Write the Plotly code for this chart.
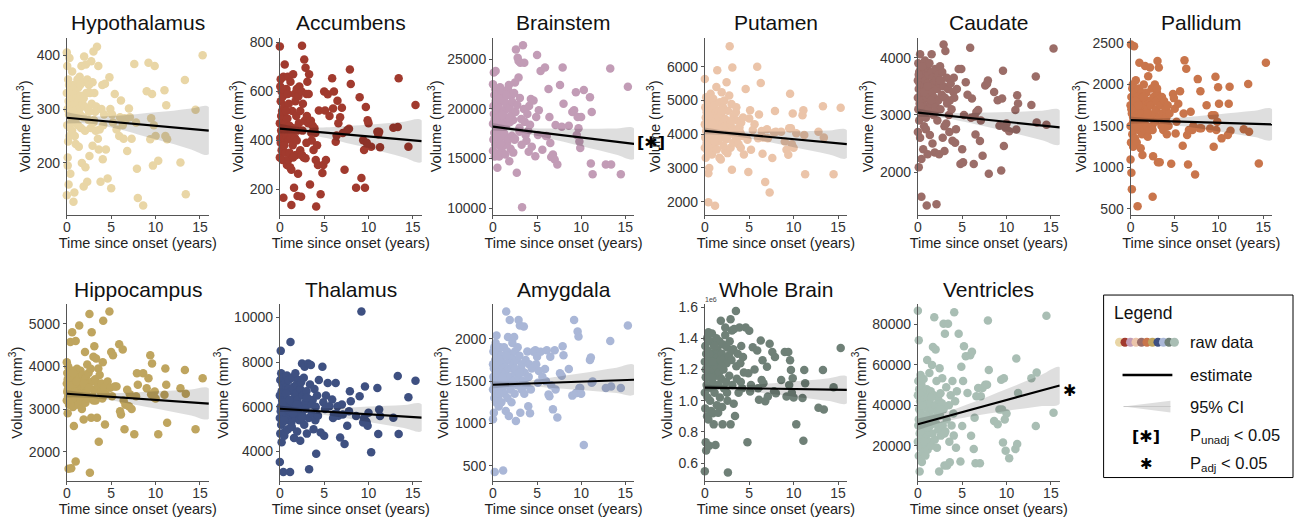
import plotly.graph_objects as go

W, H = 1298, 519

# ---------------- data ----------------
time_since_onset = [
    0.0, 0.0, 0.0, 0.05, 0.05, 0.1, 0.1, 0.15, 0.15, 0.2,
    0.2, 0.25, 0.25, 0.3, 0.3, 0.35, 0.4, 0.4, 0.45, 0.5,
    0.5, 0.55, 0.6, 0.6, 0.65, 0.7, 0.75, 0.8, 0.8, 0.85,
    0.9, 0.95, 1.0, 1.0, 1.05, 1.1, 1.15, 1.2, 1.25, 1.3,
    1.3, 1.35, 1.4, 1.45, 1.5, 1.55, 1.6, 1.65, 1.7, 1.75,
    1.8, 1.85, 1.9, 1.95, 2.0, 2.05, 2.1, 2.15, 2.2, 2.3,
    2.3, 2.4, 2.45, 2.5, 2.55, 2.6, 2.7, 2.75, 2.8, 2.9,
    2.9, 3.0, 3.05, 3.1, 3.2, 3.25, 3.3, 3.4, 3.5, 3.55,
    3.6, 3.7, 3.8, 3.9, 4.0, 4.05, 4.1, 4.2, 4.3, 4.4,
    0.1, 0.3, 0.5, 0.7, 0.9, 1.1, 1.5, 1.9, 2.5, 3.0,
    4.6, 4.8, 5.0, 5.4, 5.9, 6.1, 6.3, 6.5, 6.8, 7.0,
    7.3, 7.6, 7.9, 8.0, 8.6, 9.0, 9.2, 9.4, 9.6, 9.7,
    9.9, 10.3, 11.0, 11.1, 11.2, 11.3, 12.8, 13.3, 13.4, 14.5, 15.3,
    4.9, 5.1, 5.2, 5.6, 6.0, 6.4, 6.6, 7.1, 7.8, 9.5, 9.8, 10.0,
]

hypothalamus = [
    405, 330, 140, 380, 270, 300, 195, 355, 240, 315,
    160, 290, 345, 395, 310, 265, 180, 325, 300, 285,
    335, 310, 370, 260, 300, 320, 128, 290, 345, 145,
    310, 280, 330, 235, 300, 320, 295, 355, 270, 340,
    315, 230, 300, 360, 290, 325, 265, 380, 200, 310,
    350, 285, 156, 398, 305, 260, 192, 383, 330, 165,
    355, 300, 280, 345, 213, 330, 265, 389, 310, 350,
    232, 407, 280, 330, 295, 260, 305, 416, 245, 380,
    225, 262, 165, 300, 345, 207, 270, 290, 347, 225,
    210, 250, 275, 295, 250, 285, 345, 320, 295, 275,
    171, 359, 153, 328, 250, 316, 270, 283, 222, 301,
    245, 384, 189, 135, 121, 333, 386, 244, 328, 195,
    380, 204, 335, 250, 307, 244, 201, 354, 142, 299, 400,
    300, 290, 275, 262, 285, 245, 280, 285, 275, 283, 270, 250,
]

accumbens = [
    783, 470, 330, 620, 410, 560, 390, 500, 440, 600,
    360, 520, 430, 470, 320, 580, 660, 166, 450, 410,
    540, 710, 400, 470, 350, 430, 610, 415, 300, 490,
    660, 320, 420, 550, 405, 460, 290, 640, 410, 280,
    136, 430, 520, 380, 670, 450, 207, 590, 410, 560,
    340, 500, 610, 440, 173, 264, 580, 470, 620, 360,
    520, 170, 600, 787, 440, 550, 330, 730, 480, 697,
    327, 590, 500, 640, 470, 590, 670, 220, 480, 430,
    400, 460, 361, 450, 430, 320, 130, 380, 300, 522,
    650, 610, 380, 520, 590, 350, 330, 400, 340, 390,
    180, 267, 600, 589, 654, 600, 395, 562, 495, 533,
    280, 442, 690, 630, 207, 576, 247, 401, 207, 536,
    482, 374, 435, 425, 435, 372, 452, 455, 654, 374, 545,
    300, 522, 320, 500, 530, 420, 470, 430, 448, 361, 390, 470,
]

brainstem = [
    22500, 18500, 15800, 20300, 16900, 23680, 19500, 17600, 21400, 15200,
    19000, 22000, 16400, 23840, 18200, 20500, 17400, 15500, 21800, 14070,
    19800, 16800, 21500, 18600, 20200, 15200, 17900, 22200, 19300, 16200,
    20800, 18000, 21900, 15700, 19600, 17200, 20900, 16300, 18800, 21200,
    17500, 19900, 15400, 20600, 18300, 21700, 16600, 19100, 22000, 17000,
    22420, 14730, 20100, 18700, 16000, 21300, 19400, 17300, 20700, 15600,
    18900, 21600, 16900, 22680, 19700, 26000, 13580, 20400, 25170, 23180,
    24830, 17700, 21100, 24670, 19000, 16400, 10100, 26420, 20000, 24670,
    18700, 17380, 16800, 19500, 17800, 15700, 20300, 18400, 21000, 16200,
    17000, 20800, 18300, 21000, 16500, 19400, 21400, 19200, 17000, 18100,
    20860, 15230, 25430, 23840, 24170, 17280, 22020, 16560, 15400, 14900,
    14400, 22420, 24170, 20530, 18300, 19700, 19870, 21690, 19200, 18050,
    16060, 21920, 21190, 14500, 19700, 13410, 14400, 24070, 14400, 13410, 22250,
    19200, 17380, 19870, 15900, 17280, 19200, 15170, 18380, 18210, 17380, 16720, 19200,
]

putamen = [
    5640, 4300, 3600, 4800, 3900, 4500, 3300, 5100, 4100, 4650,
    3750, 4400, 5000, 4200, 3500, 4700, 1980, 2840, 4350, 3000,
    4900, 4050, 3700, 4550, 5200, 3850, 4450, 3400, 4750, 4150,
    3950, 5050, 4250, 3600, 4600, 4850, 1880, 3750, 4400, 5400,
    4100, 3550, 5900, 4300, 3800, 4700, 4500, 3300, 4950, 4000,
    3250, 4600, 5250, 3900, 4350, 4800, 3650, 4200, 5000, 3500,
    4450, 3850, 5540, 4250, 3440, 4700, 4050, 5150, 6615, 3600,
    4300, 4900, 2950, 5980, 3750, 4550, 4150, 3950, 4650, 4800,
    3850, 4400, 3700, 4200, 4050, 3600, 4350, 3950, 4500, 3400,
    4250, 3650, 4550, 4000, 4300, 3800, 4150, 4700, 3900, 4400,
    5346, 3834, 4468, 4127, 6000, 4585, 5522, 3424, 2585, 4146,
    2273, 3298, 4693, 4078, 4078, 3785, 3541, 3395, 5200, 4176,
    4615, 4029, 4566, 4712, 3980, 2810, 4078, 4830, 3900, 2810, 4790,
    2878, 4712, 3541, 4300, 3883, 4100, 3900, 3883, 4050, 4176, 3700, 3600,
]

caudate = [
    3300, 3600, 2700, 3900, 3100, 2086, 3450, 3750, 2900, 3200,
    3550, 4057, 2600, 3350, 3800, 2950, 1571, 2229, 3650, 3050,
    3400, 3850, 2400, 3250, 3700, 2800, 3500, 3950, 3150, 3600,
    2750, 3450, 3300, 1417, 3800, 2314, 3550, 3100, 3700, 3350,
    3900, 2650, 3500, 3200, 3750, 4057, 3400, 2500, 3650, 3000,
    3550, 3300, 2343, 3800, 3150, 3600, 1440, 3450, 2900, 3700,
    3250, 2314, 3550, 3850, 3100, 3600, 3350, 3750, 2600, 4229,
    3500, 2371, 3300, 4114, 2850, 3650, 3200, 3450, 3000, 2700,
    3250, 3550, 3100, 2550, 3400, 3650, 3300, 2514, 2750, 3450,
    3700, 3150, 3850, 3400, 2950, 3500, 3250, 3050, 3600, 2800,
    3800, 2143, 2400, 3571, 4171, 3286, 2143, 2657, 3086, 2543,
    2286, 3514, 3600, 1971, 3400, 3257, 2811, 2029, 3771, 2457,
    2771, 2714, 3086, 2743, 3343, 3200, 3171, 3669, 2869, 2829, 4160,
    3800, 2171, 3000, 3350, 2950, 2971, 3050, 2900, 3543, 3286, 2800, 2850,
]

pallidum = [
    1750, 1500, 1094, 2480, 1300, 1850, 936, 1650, 738, 1950,
    1400, 1700, 2000, 1550, 1250, 1800, 2460, 1450, 1600, 1900,
    1350, 1750, 1500, 2050, 1650, 1300, 1850, 532, 1550, 1700,
    1450, 1950, 1600, 2262, 1800, 1500, 1232, 1700, 1900, 1400,
    1650, 1150, 1850, 1550, 2000, 1750, 1450, 2223, 1600, 1800,
    1900, 1500, 1700, 1370, 2100, 1650, 1800, 1450, 2203, 1600,
    1750, 1950, 1500, 647, 1134, 1850, 1650, 2000, 1550, 1800,
    1700, 1900, 2282, 1063, 2203, 1600, 1063, 1750, 1500, 1850,
    1650, 1450, 1800, 1550, 1700, 1600, 1400, 1750, 1500, 1650,
    1700, 1600, 1800, 1500, 1750, 1550, 1850, 1650, 1450, 1950,
    1043, 1886, 1708, 1767, 1260, 2290, 2190, 1035, 1670, 1450,
    916, 2064, 1918, 1471, 1750, 1470, 1630, 1250, 2092, 1450,
    1965, 1350, 1390, 1767, 1973, 1443, 1459, 2005, 1430, 1047, 2262,
    1835, 1410, 1550, 1918, 1650, 1390, 1450, 1500, 1471, 1630, 1550, 1767,
]

hippocampus = [
    3600, 3200, 4100, 3400, 3850, 2900, 3700, 3300, 4000, 1600,
    3500, 3900, 3100, 3650, 3350, 3800, 3250, 4575, 3550, 1613,
    3700, 3150, 4807, 3450, 3900, 3050, 3600, 2602, 3750, 3300,
    3500, 3850, 1767, 4600, 3250, 3650, 3950, 3400, 3550, 3100,
    3750, 3300, 4961, 3600, 3450, 3900, 3200, 3700, 3000, 3550,
    3800, 3350, 2757, 3650, 3500, 4343, 3150, 3750, 3400, 4050,
    3600, 3250, 3850, 3500, 5232, 1504, 3950, 2795, 4807, 3300,
    3650, 4227, 3450, 4474, 3700, 3200, 4188, 2795, 3550, 3956,
    2231, 3800, 3400, 3600, 3250, 4100, 5077, 3500, 2641, 3350,
    3450, 3750, 3550, 3850, 3400, 3650, 3300, 3600, 3500, 3200,
    3647, 5294, 4343, 3530, 4520, 2873, 4397, 2525, 3453, 3066,
    3005, 2410, 3840, 3570, 3840, 3490, 3724, 4265, 4072, 3353,
    3415, 2410, 3337, 3956, 3569, 2680, 3490, 3917, 3360, 2525, 3724,
    3500, 3300, 4265, 3530, 2950, 3200, 3100, 3350, 3300, 3350, 3280, 3250,
]

thalamus = [
    6500, 5500, 3529, 7200, 4800, 8500, 6000, 5200, 7500, 6700,
    4412, 6300, 5800, 7000, 5300, 6600, 3088, 5900, 7300, 4706,
    6200, 5600, 7100, 4900, 6400, 5700, 6900, 5400, 7400, 6100,
    5000, 6800, 5500, 7200, 6300, 5800, 3088, 8897, 6000, 5300,
    6700, 5100, 7300, 6200, 5700, 6900, 4600, 6400, 5900, 7500,
    5500, 6600, 7000, 4900, 6300, 5800, 7200, 6100, 5400, 6800,
    4485, 7100, 6000, 7941, 5600, 6500, 7300, 5200, 7794, 6200,
    5900, 6700, 4800, 6400, 7941, 5500, 3206, 7000, 7868, 6100,
    5700, 6300, 5000, 6800, 5400, 6000, 3897, 6500, 5600, 7200,
    5800, 6200, 5400, 6600, 5900, 6300, 5700, 6100, 5500, 6400,
    4853, 7794, 4700, 7059, 6324, 5662, 7059, 6029, 4632, 6100,
    4338, 5147, 6691, 6250, 5588, 6471, 10265, 5300, 6912, 5368,
    5147, 3971, 6838, 4779, 5882, 5588, 5515, 7382, 4779, 6426, 7162,
    6200, 5900, 6500, 6029, 5500, 5700, 5600, 5650, 5800, 5500, 5300, 5735,
]

amygdala = [
    1700, 1400, 1050, 1850, 1550, 1128, 1650, 1300, 1900, 1450,
    430, 1750, 1350, 1600, 1950, 1250, 2039, 1500, 1800, 1400,
    1650, 1300, 1850, 1550, 1200, 1700, 1450, 1900, 1350, 1600,
    1750, 1250, 1500, 1800, 1400, 1650, 446, 1550, 1900, 1350,
    1700, 1450, 1600, 1147, 2322, 1500, 1850, 1300, 2019, 1650,
    1089, 1750, 2221, 1550, 1400, 1800, 1250, 1650, 1950, 1500,
    1700, 2019, 1350, 1850, 1600, 1031, 1750, 1450, 1900, 2221,
    1550, 1800, 2155, 1128, 1650, 1400, 1700, 1500, 2143, 1350,
    1600, 1750, 1450, 1850, 1205, 1550, 1700, 1120, 1400, 1650,
    1500, 1700, 1600, 1350, 1750, 1550, 1800, 1450, 1650, 1600,
    1845, 1864, 1787, 1845, 1643, 1864, 1341, 1787, 1167, 1864,
    1070, 1593, 1911, 1806, 1643, 1329, 2221, 1360, 2085, 2027,
    1419, 748, 1748, 1779, 1480, 1496, 1419, 1973, 1438, 1419, 2155,
    1700, 1480, 1620, 1550, 1500, 1322, 1450, 1400, 1562, 1360, 1420, 1350,
]

whole_brain = [  # in units of 1e6 mm^3
    1.25, 1.05, 0.547, 1.35, 0.95, 1.15, 0.733, 1.30, 0.68, 1.20,
    1.10, 1.40, 0.90, 1.25, 1.02, 1.32, 1.438, 0.88, 1.18, 1.28,
    0.711, 1.22, 1.38, 1.00, 1.15, 0.933, 1.27, 1.08, 1.43, 1.12,
    0.92, 1.30, 1.20, 0.848, 1.35, 1.05, 1.25, 0.716, 1.16, 1.40,
    1.22, 0.97, 1.33, 1.10, 0.922, 1.28, 1.18, 1.38, 1.02, 1.26,
    1.512, 1.14, 1.30, 0.96, 0.848, 1.36, 1.20, 1.08, 1.27, 1.42,
    1.469, 1.12, 1.24, 1.34, 1.00, 0.539, 1.29, 1.16, 1.38, 1.522,
    0.848, 1.26, 1.45, 1.10, 1.33, 0.98, 1.459, 0.901, 1.575, 1.22,
    1.14, 1.30, 1.05, 1.469, 1.24, 1.12, 1.35, 1.08, 1.28, 1.18,
    1.20, 1.08, 1.30, 1.15, 1.25, 1.35, 1.10, 1.22, 1.05, 1.32,
    1.469, 0.733, 1.448, 1.343, 1.322, 1.006, 1.385, 1.259, 0.996, 1.217,
    1.364, 1.312, 1.280, 1.048, 1.133, 1.312, 1.027, 1.312, 1.259, 1.196,
    1.143, 0.848, 1.017, 0.743, 1.196, 1.112, 0.954, 1.196, 0.943, 1.086, 1.337,
    1.175, 1.059, 1.10, 1.20, 1.08, 1.133, 1.112, 1.027, 1.06, 1.10, 1.05, 1.02,
]

ventricles = [
    86850, 45000, 22000, 52000, 30000, 72170, 15000, 38000, 48000, 26000,
    7280, 42000, 33000, 55000, 19000, 36000, 50000, 28000, 12000, 40000,
    24000, 46000, 31000, 17000, 53000, 35000, 21000, 43000, 29000, 15100,
    39000, 25000, 48000, 33000, 62400, 18000, 44000, 27000, 36000, 56000,
    22000, 41000, 30000, 47000, 20000, 38000, 60000, 26000, 68910, 34000,
    45000, 83600, 23000, 40000, 67600, 31000, 52000, 19000, 37000, 43000,
    28000, 7280, 58300, 35000, 46000, 25000, 41000, 53400, 30000, 80330,
    38000, 10200, 75440, 27000, 49000, 33000, 10200, 80330, 40000, 22000,
    11850, 45000, 30000, 52000, 36000, 25000, 86030, 42000, 19000, 47000,
    33000, 27000, 40000, 22000, 35000, 29000, 44000, 31000, 38000, 26000,
    75440, 12170, 29780, 64350, 64840, 66470, 18370, 11350, 48540, 11350,
    48540, 50170, 81960, 57500, 32230, 30600, 37930, 52610, 21630, 53430,
    17550, 13800, 18370, 63210, 20820, 46090, 53430, 29780, 56200, 84400, 36300,
    59130, 52000, 69240, 46090, 24890, 33860, 44500, 44500, 50170, 37930, 33040, 36000,
]

region_names = ["Hypothalamus", "Accumbens", "Brainstem", "Putamen", "Caudate", "Pallidum",
                "Hippocampus", "Thalamus", "Amygdala", "Whole Brain", "Ventricles"]
region_values = [hypothalamus, accumbens, brainstem, putamen, caudate, pallidum,
                 hippocampus, thalamus, amygdala, whole_brain, ventricles]
region_colors = ["#E9D6A6", "#A13A2E", "#C29CB6", "#EBC4A9", "#9B6D68", "#C9754B",
                 "#BFA55F", "#3E5081", "#AAB7D7", "#6F8077", "#A9BEB4"]

# fitted estimate at x = 0 and x = 16
estimate_start = [284, 448, 18212, 4098, 3040, 1569, 3360, 5912, 1457, 1.084, 30600]
estimate_end = [260, 397, 16490, 3707, 2783, 1518, 3128, 5515, 1516, 1.069, 49840]

# 95% CI half-widths at these x positions
ci_x = [0, 1.5, 3, 4.5, 6, 8, 10, 12, 14, 16]
ci_halfwidth = [
    [10.6, 7.9, 7.0, 9.7, 13, 19, 25, 31, 38, 44],
    [20, 15, 14, 19, 26, 37, 48, 60, 73, 85],
    [370, 277, 246, 339, 462, 662, 878, 1093, 1324, 1540],
    [100, 75, 66, 91, 125, 178, 237, 295, 355, 415],
    [72, 54, 48, 66, 90, 129, 171, 213, 257, 300],
    [44, 33, 29, 40, 55, 79, 105, 131, 158, 184],
    [85, 64, 57, 78, 107, 154, 204, 253, 305, 356],
    [145, 109, 96, 133, 181, 259, 344, 429, 516, 603],
    [42, 31, 28, 38, 53, 76, 100, 125, 150, 175],
    [0.020, 0.015, 0.014, 0.019, 0.026, 0.037, 0.049, 0.060, 0.073, 0.085],
    [2900, 2500, 2400, 2700, 3300, 4300, 5400, 6600, 7800, 9000],
]

y_ranges = [[103, 433], [95, 820], [9300, 27200], [1600, 6870], [1250, 4350], [425, 2565],
            [1300, 5470], [2660, 10600], [317, 2410], [0.482, 1.62], [2300, 90200]]
y_ticks = [[200, 300, 400], [200, 400, 600, 800], [10000, 15000, 20000, 25000],
           [2000, 3000, 4000, 5000, 6000], [2000, 3000, 4000], [500, 1000, 1500, 2000, 2500],
           [2000, 3000, 4000, 5000], [4000, 6000, 8000, 10000], [500, 1000, 1500, 2000],
           [0.6, 0.8, 1.0, 1.2, 1.4, 1.6], [20000, 40000, 60000, 80000]]
x_ticks = [0, 5, 10, 15]

# ---------------- layout geometry (pixels) ----------------
col_px = [(63, 205.5), (276.7, 419), (490.5, 632), (703, 845.5), (916.7, 1059), (1130, 1272)]
row_px = [(33, 213), (303, 483)]
title_px = [18, 288]
legend_box_px = (1103, 294, 1293, 479)

FONT = "Liberation Sans, Arial, Helvetica, sans-serif"
SYM_FONT = "DejaVu Sans, Liberation Sans, sans-serif"


def xdom(c):
    return [col_px[c][0] / W, col_px[c][1] / W]


def ydom(r):
    return [1 - row_px[r][1] / H, 1 - row_px[r][0] / H]


fig = go.Figure()
layout = {}
annotations = []

for i, name in enumerate(region_names):
    r, c = divmod(i, 6)
    ax = i + 1
    xa, ya = f"x{ax}", f"y{ax}"
    vals = region_values[i]
    n = min(len(time_since_onset), len(vals))
    if len(vals) != len(time_since_onset):
        print("length mismatch", name, len(vals), len(time_since_onset))
    fig.add_trace(go.Scatter(
        x=time_since_onset[:n], y=vals[:n], mode="markers", xaxis=xa, yaxis=ya,
        marker=dict(size=8.5, color=region_colors[i], line=dict(width=0)),
        cliponaxis=False, hoverinfo="skip", showlegend=False))
    e0, e1 = estimate_start[i], estimate_end[i]
    est_ci = [e0 + (e1 - e0) * x / 16 for x in ci_x]
    upper = [e + h for e, h in zip(est_ci, ci_halfwidth[i])]
    lower = [e - h for e, h in zip(est_ci, ci_halfwidth[i])]
    fig.add_trace(go.Scatter(
        x=ci_x + ci_x[::-1], y=upper + lower[::-1], mode="lines", fill="toself",
        fillcolor="rgba(0,0,0,0.13)", line=dict(width=0, shape="spline"),
        xaxis=xa, yaxis=ya, hoverinfo="skip", showlegend=False))
    fig.add_trace(go.Scatter(
        x=[0, 16], y=[e0, e1], mode="lines", line=dict(color="black", width=2.2),
        xaxis=xa, yaxis=ya, hoverinfo="skip", showlegend=False))

    common = dict(showline=True, linecolor="#555", linewidth=1, ticks="outside",
                  ticklen=3, tickcolor="#555", showgrid=False, zeroline=False,
                  tickfont=dict(family=FONT, size=14, color="#333"), fixedrange=True)
    layout[f"xaxis{ax}"] = dict(
        domain=xdom(c), anchor=ya, range=[0, 16], tickvals=x_ticks, ticklabelstandoff=-4,
        title=dict(text="Time since onset (years)", standoff=0,
                   font=dict(family=FONT, size=14.5, color="#222")), **common)
    fmt = ".1f" if name == "Whole Brain" else "d"
    layout[f"yaxis{ax}"] = dict(
        domain=ydom(r), anchor=xa, range=y_ranges[i], tickvals=y_ticks[i], tickformat=fmt,
        title=dict(text="Volume (mm<sup>3</sup>)", standoff=2,
                   font=dict(family=FONT, size=14.5, color="#222")), **common)
    annotations.append(dict(
        text=name, x=(col_px[c][0] + col_px[c][1]) / 2 / W, y=1 - title_px[r] / H,
        xref="paper", yref="paper", showarrow=False, xanchor="center", yanchor="middle",
        font=dict(family=FONT, size=21, color="#111")))

# significance markers and exponent label
annotations.append(dict(text="<b>[✱]</b>", x=633 / W, y=1 - 139 / H, xref="paper", yref="paper",
                        showarrow=False, xanchor="left", yanchor="middle",
                        font=dict(family=SYM_FONT, size=16, color="black")))
annotations.append(dict(text="<b>✱</b>", x=1060 / W, y=1 - 391 / H, xref="paper", yref="paper",
                        showarrow=False, xanchor="left", yanchor="middle",
                        font=dict(family=SYM_FONT, size=16, color="black")))
annotations.append(dict(text="1e6", x=709 / W, y=1 - 299 / H, xref="paper", yref="paper",
                        showarrow=False, font=dict(family=FONT, size=7, color="#444")))

# ---------------- legend panel ----------------
lx0, ly0, lx1, ly1 = legend_box_px
layout["xaxis12"] = dict(domain=[lx0 / W, lx1 / W], range=[0, 1], visible=False, fixedrange=True,
                         anchor="y12")
layout["yaxis12"] = dict(domain=[1 - ly1 / H, 1 - ly0 / H], range=[0, 1], visible=False,
                         fixedrange=True, anchor="x12")
shapes = [dict(type="rect", xref="paper", yref="paper", x0=lx0 / W, x1=lx1 / W,
               y0=1 - ly1 / H, y1=1 - ly0 / H, line=dict(color="black", width=1),
               fillcolor="rgba(0,0,0,0)")]

legend_dot_x = [0.084 + k * 0.029 for k in range(len(region_colors))]
fig.add_trace(go.Scatter(x=legend_dot_x, y=[0.741] * len(region_colors), mode="markers",
                         marker=dict(size=9, color=region_colors), xaxis="x12", yaxis="y12",
                         hoverinfo="skip", showlegend=False))
fig.add_trace(go.Scatter(x=[0.1, 0.363], y=[0.562, 0.562], mode="lines",
                         line=dict(color="black", width=2.5), xaxis="x12", yaxis="y12",
                         hoverinfo="skip", showlegend=False))
fig.add_trace(go.Scatter(x=[0.105, 0.353, 0.353, 0.105], y=[0.389, 0.421, 0.357, 0.389],
                         mode="lines", fill="toself", fillcolor="rgba(0,0,0,0.13)",
                         line=dict(width=0), xaxis="x12", yaxis="y12",
                         hoverinfo="skip", showlegend=False))
fig.add_trace(go.Scatter(x=[0.105, 0.353], y=[0.389, 0.389], mode="lines",
                         line=dict(color="#c8c8c8", width=1), xaxis="x12", yaxis="y12",
                         hoverinfo="skip", showlegend=False))

leg_font = dict(family=FONT, size=16.5, color="#111")
annotations.append(dict(text="Legend", x=0.042, y=0.903, xref="x12", yref="y12", showarrow=False,
                        xanchor="left", yanchor="middle", font=dict(family=FONT, size=17.5, color="#111")))
for txt, yy in [("raw data", 0.741), ("estimate", 0.562), ("95% CI", 0.389),
                ("P<sub>unadj</sub> &lt; 0.05", 0.227), ("P<sub>adj</sub> &lt; 0.05", 0.076)]:
    annotations.append(dict(text=txt, x=0.447, y=yy, xref="x12", yref="y12", showarrow=False,
                            xanchor="left", yanchor="middle", font=leg_font))
annotations.append(dict(text="<b>[✱]</b>", x=0.226, y=0.227, xref="x12", yref="y12", showarrow=False,
                        xanchor="center", yanchor="middle",
                        font=dict(family=SYM_FONT, size=16, color="black")))
annotations.append(dict(text="<b>✱</b>", x=0.226, y=0.076, xref="x12", yref="y12", showarrow=False,
                        xanchor="center", yanchor="middle",
                        font=dict(family=SYM_FONT, size=15, color="black")))

fig.update_layout(width=W, height=H, margin=dict(l=0, r=0, t=0, b=0),
                  paper_bgcolor="white", plot_bgcolor="white", showlegend=False,
                  font=dict(family=FONT), annotations=annotations, shapes=shapes,
                  hovermode=False, **layout)

fig.write_html("out.html", config={"displayModeBar": False},
               post_script="document.body.style.margin='0px';document.body.style.overflow='hidden';")
